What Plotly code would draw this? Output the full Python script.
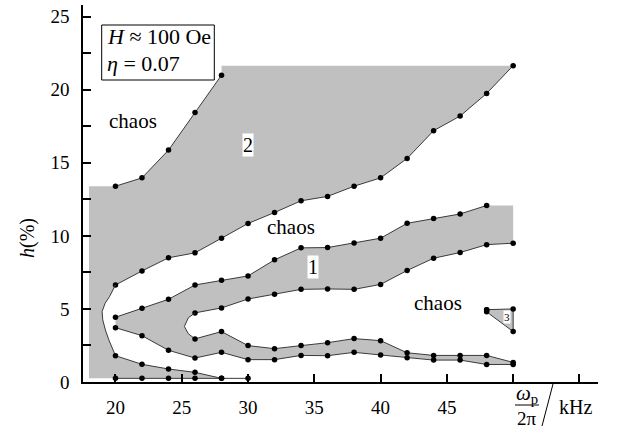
import plotly.graph_objects as go

# ---- data ----
# region 2 boundaries
r2_left_f = [20, 22, 24, 26, 28]
r2_left_h = [13.4, 13.97, 15.87, 18.45, 21.0]
r2_top_h = 21.65
r2_box_left_f = 18.0
r2_right_f = [20, 22, 24, 26, 28, 30, 32, 34, 36, 38, 40, 42, 44, 46, 48, 50]
r2_right_h = [6.64, 7.6, 8.5, 8.84, 9.84, 10.85, 11.6, 12.4, 12.7, 13.4, 13.97, 15.3, 17.2, 18.2, 19.75, 21.65]
# curved boundary of left chaos tongue (from top to bottom)
curve_f = [20, 19.55, 19.22, 18.99, 19.04, 19.24, 19.5, 19.8, 20]
curve_h = [6.64, 5.84, 5.39, 4.82, 4.25, 3.56, 2.88, 2.19, 1.8]
r2_low_f = [20, 22, 24, 26, 28]
r2_low_h = [1.8, 1.21, 0.89, 0.66, 0.25]
bottom_f = [20, 22, 24, 26, 28, 30]
bottom_h = [0.25, 0.25, 0.25, 0.25, 0.25, 0.25]

# region 1 boundaries
r1_up_f = [20, 22, 24, 26, 28, 30, 32, 34, 36, 38, 40, 42, 44, 46, 48]
r1_up_h = [4.43, 5.04, 5.66, 6.64, 6.96, 7.26, 8.36, 9.18, 9.2, 9.52, 9.84, 10.86, 11.19, 11.5, 12.08]
r1_mid_f = [26, 28, 30, 32, 34, 36, 38, 40, 42, 44, 46, 48, 50]
r1_mid_h = [4.73, 5.07, 5.68, 6.0, 6.34, 6.37, 6.34, 6.68, 7.63, 8.47, 8.86, 9.4, 9.5]
inner_curve_f = [26, 25.5, 25.2, 25.5, 26]
inner_curve_h = [4.73, 4.4, 3.8, 3.3, 2.95]
r1_in_f = [26, 28, 30, 32, 34, 36, 38, 40, 42, 44, 46, 48, 50]
r1_in_h = [2.95, 3.45, 2.49, 2.28, 2.49, 2.69, 2.97, 2.83, 2.0, 1.82, 1.82, 1.82, 1.34]
r1_low_f = [20, 22, 24, 26, 28, 30, 32, 34, 36, 38, 40, 42, 44, 46, 48, 50]
r1_low_h = [3.72, 3.17, 2.17, 1.64, 2.03, 1.53, 1.53, 1.82, 1.8, 2.03, 1.85, 1.66, 1.5, 1.5, 1.2, 1.2]

# region 3 triangle
r3_f = [48, 50, 50, 48]
r3_h = [4.95, 5.0, 3.45, 4.8]

# ---- styles ----
GRAY = "#c0c0c0"
LINE = "#3a3a3a"
FONT = "Liberation Serif, Times New Roman, DejaVu Serif, serif"

fig = go.Figure()

def fill(xs, ys):
    fig.add_trace(go.Scatter(x=xs, y=ys, mode="lines", fill="toself", fillcolor=GRAY,
                             line=dict(width=0, color=GRAY), hoverinfo="skip", showlegend=False))

def line(xs, ys, markers=True):
    fig.add_trace(go.Scatter(x=xs, y=ys, mode="lines+markers" if markers else "lines",
                             line=dict(width=1, color=LINE),
                             marker=dict(size=5.5, color="black"),
                             hoverinfo="skip", showlegend=False))

# region 2 polygon
p2x = [r2_box_left_f, r2_box_left_f] + r2_left_f + [r2_left_f[-1], r2_right_f[-1]] \
      + r2_right_f[::-1] + curve_f[1:-1] + r2_low_f + [r2_box_left_f]
p2y = [bottom_h[0], r2_left_h[0]] + r2_left_h + [r2_top_h, r2_top_h] \
      + r2_right_h[::-1] + curve_h[1:-1] + r2_low_h + [bottom_h[0]]
fill(p2x, p2y)

# region 1 polygon
p1x = r1_up_f + [r1_mid_f[-1]] + r1_mid_f[::-1] + inner_curve_f[1:-1] + r1_in_f + r1_low_f[::-1]
p1y = r1_up_h + [r1_up_h[-1]] + r1_mid_h[::-1] + inner_curve_h[1:-1] + r1_in_h + r1_low_h[::-1]
fill(p1x, p1y)

# region 3 polygon
fill(r3_f + [r3_f[0]], r3_h + [r3_h[0]])

# boundary lines
line(r2_left_f, r2_left_h)
line(r2_right_f, r2_right_h)
line(curve_f, curve_h, markers=False)
line(r2_low_f, r2_low_h)
line(bottom_f, bottom_h)
line(r1_up_f, r1_up_h)
line(r1_mid_f, r1_mid_h)
line(inner_curve_f, inner_curve_h, markers=False)
line(r1_in_f, r1_in_h)
line(r1_low_f, r1_low_h)
line(r3_f + [r3_f[0]], r3_h + [r3_h[0]])

# ---- layout ----
W, H = 617, 428
L, R, T, B = 83, 19, 5, 46
pw, ph = W - L - R, H - T - B

def px(xp):
    return (xp - L) / pw

def py(yp):
    return (H - B - yp) / ph

xt = [20, 25, 30, 35, 40, 45, 50, 55]
xtt = ["20", "25", "30", "35", "40", "45", "", ""]
yt = [0, 2.5, 5, 7.5, 10, 12.5, 15, 17.5, 20, 22.5, 25]
ytt = ["0", "", "5", "", "10", "", "15", "", "20", "", "25"]

fig.update_layout(
    width=W, height=H,
    margin=dict(l=L, r=R, t=T, b=B, pad=0),
    paper_bgcolor="white", plot_bgcolor="white",
    font=dict(family=FONT, size=19, color="black"),
    xaxis=dict(range=[17.55, 56.4], showgrid=False, zeroline=False, showline=True,
               linecolor="black", linewidth=1.5, ticks="inside", ticklen=8, tickwidth=1.5,
               tickcolor="black", tickvals=xt, ticktext=xtt, ticklabelstandoff=7,
               tickfont=dict(family=FONT, size=19)),
    yaxis=dict(range=[0, 25.8], showgrid=False, zeroline=False, showline=True,
               linecolor="black", linewidth=1.5, ticks="inside", ticklen=8, tickwidth=1.5,
               tickcolor="black", tickvals=yt, ticktext=ytt, ticklabelstandoff=8,
               tickfont=dict(family=FONT, size=19)),
)

ann = []
# region / chaos labels
for txt, f, h in [("chaos", 21.34, 17.85), ("chaos", 33.23, 10.58), ("chaos", 44.36, 5.39)]:
    ann.append(dict(x=f, y=h, xref="x", yref="y", text=txt, showarrow=False,
                    xanchor="center", yanchor="middle", font=dict(size=21, family=FONT)))
for txt, f, h, s in [("2", 30.0, 16.25, 20), ("1", 34.9, 7.84, 20), ("3", 49.57, 4.43, 11)]:
    ann.append(dict(x=f, y=h, xref="x", yref="y", text=txt, showarrow=False,
                    xanchor="center", yanchor="middle",
                    bgcolor="white", borderpad=0, font=dict(size=s, family=FONT)))
# parameter box text
ann.append(dict(x=px(105), y=py(36.5), xref="paper", yref="paper", xanchor="left", yanchor="middle",
                text="<i>H</i> ≈ 100 Oe", showarrow=False, font=dict(size=22, family=FONT)))
ann.append(dict(x=px(105), y=py(63), xref="paper", yref="paper", xanchor="left", yanchor="middle",
                text="<i>η</i> = 0.07", showarrow=False, font=dict(size=22, family=FONT)))
# y title
ann.append(dict(x=px(27), y=py(238), xref="paper", yref="paper", text="<i>h</i>(%)",
                xanchor="center", yanchor="middle",
                textangle=-90, showarrow=False, font=dict(size=20, family=FONT)))
# x title pieces
ann.append(dict(x=px(527), y=py(394), xref="paper", yref="paper", text="<i>ω</i><sub>p</sub>",
                xanchor="center", yanchor="middle",
                showarrow=False, font=dict(size=21, family=FONT)))
ann.append(dict(x=px(527), y=py(418), xref="paper", yref="paper", text="2π",
                xanchor="center", yanchor="middle",
                showarrow=False, font=dict(size=19, family=FONT)))
ann.append(dict(x=px(575), y=py(407), xref="paper", yref="paper", text="kHz",
                xanchor="center", yanchor="middle",
                showarrow=False, font=dict(size=20, family=FONT)))
fig.update_layout(annotations=ann)

# parameter box frame
fig.add_shape(type="rect", xref="paper", yref="paper", x0=px(101.7), x1=px(214.3), y0=py(80), y1=py(25),
              line=dict(color="black", width=1), fillcolor="white", layer="above")
fig.add_shape(type="line", xref="paper", yref="paper", x0=px(515), x1=px(539), y0=py(405), y1=py(405),
              line=dict(color="black", width=1))
fig.add_shape(type="line", xref="paper", yref="paper", x0=px(542), x1=px(553), y0=py(426), y1=py(384),
              line=dict(color="black", width=1))

fig.write_html("out.html")
